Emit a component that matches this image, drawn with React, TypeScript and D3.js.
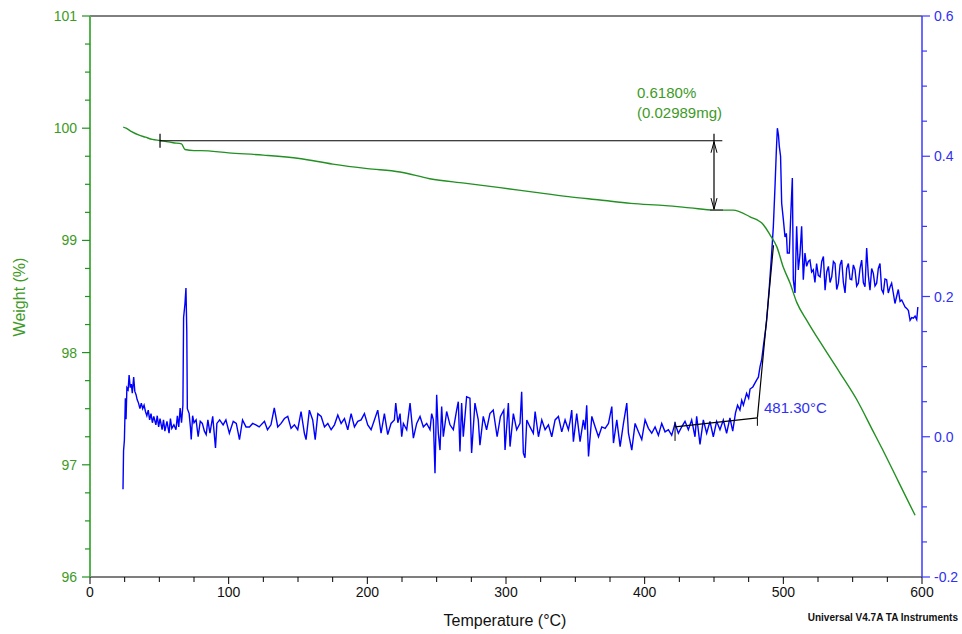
import React from 'react';
import * as d3 from 'd3';

// ---- axis tick values ----
const tempTicks = [0, 100, 200, 300, 400, 500, 600];
const weightTicks = [96, 97, 98, 99, 100, 101];
const derivTicks = [-0.2, 0, 0.2, 0.4, 0.6];
const derivTickLabels = ['-0.2', '0.0', '0.2', '0.4', '0.6'];

// ---- weight (%) curve: temperature, weight ----
const weightTemp = [24, 26, 30, 35, 40, 45, 50.5, 55, 60, 66, 68.5, 75, 80, 100, 125, 151, 175, 200, 223.5, 245, 270, 295.7, 320, 345, 367.8, 390, 415, 432.7, 450, 463.7, 476, 485.6, 490.4, 495.4, 500, 504.8, 509.6, 516.8, 528.8, 540.8, 553, 564.7, 571, 583, 595];
const weightVal = [100.01, 100.0, 99.97, 99.94, 99.92, 99.9, 99.89, 99.88, 99.87, 99.86, 99.81, 99.8, 99.8, 99.78, 99.76, 99.73, 99.68, 99.64, 99.61, 99.55, 99.51, 99.47, 99.43, 99.39, 99.36, 99.33, 99.31, 99.29, 99.27, 99.27, 99.21, 99.14, 99.05, 98.94, 98.76, 98.62, 98.45, 98.29, 98.05, 97.82, 97.58, 97.3, 97.15, 96.85, 96.55];

// ---- derivative weight curve: temperature ----
const derivTemp = [
  23.8, 24.2, 24.8, 25.5, 26.0, 26.6, 27.5, 28.2, 29.0, 29.8, 30.5, 31.5, 32.3, 33.2, 34.0, 35.0, 36.0, 37.0, 38.0, 39.0,
  40.0, 41.0, 42.0, 43.0, 44.0, 45.0, 46.0, 47.5, 48.5, 49.5, 50.5, 52.0, 53.0, 54.0, 55.5, 57.0, 58.0, 59.0, 60.5, 62.0,
  63.0, 64.0, 65.0, 66.0, 67.0, 67.5, 68.5, 69.2, 69.8, 70.2, 71.5, 72.5, 73.0, 74.0, 75.0, 76.5, 78.0, 79.5, 81.0, 82.5,
  83.8, 85.0, 86.5, 88.5, 90.5, 91.5, 93.5, 96.0, 98.0, 100.5, 103.3, 105.5, 107.8, 110.0, 112.5, 115.0, 117.3, 119.6, 122.0, 125.8,
  128.0, 130.5, 132.9, 135.4, 137.8, 140.2, 142.6, 145.0, 147.4, 149.8, 152.2, 154.6, 155.8, 158.2, 160.6, 162.4, 164.3, 166.7, 169.1, 171.5,
  173.9, 176.3, 178.7, 181.1, 183.5, 185.9, 188.3, 190.7, 193.1, 195.5, 197.9, 200.3, 202.7, 205.1, 207.5, 209.9, 212.3, 214.7, 217.1, 219.5,
  220.5, 222.0, 223.6, 224.8, 226.0, 228.4, 230.8, 233.2, 235.6, 238.0, 240.4, 242.8, 245.2, 246.4, 247.6, 248.8, 250.0, 251.2, 252.4, 253.6,
  254.8, 257.2, 259.6, 262.0, 264.4, 265.6, 266.8, 268.0, 269.2, 271.6, 274.0, 275.2, 277.6, 280.0, 281.2, 283.6, 286.0, 288.4, 290.8, 293.6,
  296.0, 298.4, 299.3, 301.7, 302.9, 305.3, 307.7, 310.1, 311.3, 312.5, 313.7, 315.0, 317.3, 319.7, 321.0, 323.4, 325.8, 328.2, 330.6, 333.0,
  335.4, 337.8, 340.2, 342.6, 345.0, 346.2, 347.4, 348.6, 351.0, 353.4, 355.8, 357.0, 358.2, 359.5, 361.9, 364.3, 366.7, 369.1, 371.5, 373.9,
  376.3, 377.5, 379.9, 382.3, 384.7, 387.1, 388.3, 390.7, 393.1, 395.5, 397.9, 400.3, 402.7, 405.1, 407.5, 409.9, 412.3, 414.7, 417.1, 419.5,
  421.9, 424.3, 426.7, 429.1, 431.5, 433.9, 436.3, 437.5, 439.9, 442.3, 444.7, 447.1, 449.5, 451.9, 454.3, 456.7, 459.1, 461.5, 463.5, 465.5,
  467.0, 468.7, 470.0, 471.2, 473.5, 475.0, 476.0, 478.0, 480.8, 482.0, 483.2, 484.4, 485.6, 487.0, 488.0, 489.9, 491.6, 492.8, 494.0, 495.0,
  495.7, 496.5, 497.1, 498.0, 498.8, 500.0, 501.2, 502.2, 502.9, 504.3, 505.5, 506.5, 507.2, 508.4, 509.6, 510.8, 512.0, 513.2, 514.4, 515.6,
  516.8, 518.0, 519.2, 520.4, 521.6, 522.8, 524.0, 525.2, 526.5, 527.7, 528.9, 530.1, 531.3, 532.5, 533.7, 534.9, 536.1, 537.3, 538.5, 539.7,
  540.9, 542.1, 543.3, 544.5, 545.7, 546.9, 548.1, 549.3, 550.5, 551.7, 552.9, 554.1, 555.3, 556.5, 557.7, 558.9, 560.1, 561.3, 562.5, 563.7,
  564.9, 566.1, 567.3, 568.5, 569.7, 570.9, 572.1, 573.3, 574.5, 575.7, 577.0, 578.1, 579.3, 580.5, 581.7, 582.9, 584.2, 585.4, 586.6, 587.8,
  589.0, 590.2, 591.4, 592.6, 593.8, 595.0, 596.2, 597.0
];
// ---- derivative weight curve: values (right axis) ----
const derivVal = [
  -0.075, -0.02, -0.005, 0.055, 0.025, 0.07, 0.067, 0.088, 0.07, 0.075, 0.062, 0.085, 0.065, 0.06, 0.053, 0.048, 0.04, 0.048, 0.04, 0.045,
  0.036, 0.03, 0.038, 0.024, 0.033, 0.02, 0.029, 0.017, 0.03, 0.014, 0.026, 0.01, 0.024, 0.008, 0.022, 0.005, 0.026, 0.012, 0.017, 0.01,
  0.03, 0.014, 0.041, 0.02, 0.045, 0.17, 0.19, 0.212, 0.15, 0.04, 0.033, 0.012, -0.004, 0.03, 0.02, 0.024, 0.0, 0.022, 0.019, 0.008,
  0.003, 0.024, 0.005, 0.029, -0.016, 0.019, 0.024, 0.017, 0.024, 0.005, 0.022, 0.019, -0.004, 0.024, 0.014, 0.014, 0.019, 0.017, 0.014, 0.022,
  0.01, 0.017, 0.041, 0.014, 0.019, 0.026, 0.029, 0.012, 0.017, 0.01, 0.036, 0.005, -0.004, 0.038, 0.024, -0.004, 0.033, 0.029, 0.014, 0.019,
  0.01, 0.017, 0.031, 0.019, 0.026, 0.01, 0.033, 0.014, 0.022, 0.024, 0.033, 0.017, 0.01, 0.024, 0.038, 0.005, 0.033, 0.003, 0.019, 0.024,
  0.048, 0.02, 0.033, 0.0, 0.019, 0.01, 0.048, -0.002, 0.019, 0.029, 0.014, 0.019, 0.01, 0.033, 0.024, -0.052, 0.06, 0.005, -0.019, 0.043,
  0.0, 0.036, 0.017, 0.01, 0.038, 0.05, -0.021, 0.048, 0.0, 0.057, 0.055, -0.023, 0.048, 0.024, -0.012, 0.029, 0.01, 0.033, 0.038, 0.0,
  0.029, 0.038, -0.019, 0.048, -0.014, 0.033, 0.01, 0.019, 0.064, -0.023, -0.03, 0.024, 0.014, 0.005, 0.036, 0.0, 0.024, 0.01, 0.017, 0.0,
  0.024, 0.029, 0.007, 0.024, 0.01, 0.022, 0.038, -0.007, 0.033, -0.007, 0.024, 0.01, 0.045, -0.028, 0.029, 0.014, 0.0, 0.014, 0.012, 0.019,
  0.043, -0.009, 0.024, -0.014, 0.019, 0.048, 0.005, -0.019, 0.019, 0.007, -0.004, 0.024, 0.012, 0.005, 0.014, 0.002, 0.019, 0.007, 0.01, 0.002,
  0.019, 0.005, 0.014, 0.022, 0.01, 0.024, 0.0, 0.029, -0.011, 0.024, 0.005, 0.022, 0.0, 0.022, 0.01, 0.024, 0.005, 0.027, 0.008, 0.034,
  0.045, 0.038, 0.052, 0.045, 0.062, 0.055, 0.068, 0.071, 0.081, 0.085, 0.1, 0.11, 0.129, 0.15, 0.166, 0.214, 0.262, 0.3, 0.357, 0.41,
  0.44, 0.43, 0.414, 0.4, 0.333, 0.31, 0.285, 0.29, 0.262, 0.262, 0.323, 0.369, 0.224, 0.205, 0.3, 0.238, 0.26, 0.3, 0.224, 0.262,
  0.243, 0.25, 0.252, 0.235, 0.238, 0.22, 0.247, 0.23, 0.228, 0.25, 0.257, 0.209, 0.235, 0.243, 0.22, 0.228, 0.25, 0.247, 0.21, 0.219,
  0.245, 0.252, 0.22, 0.205, 0.24, 0.247, 0.225, 0.224, 0.245, 0.238, 0.215, 0.219, 0.24, 0.252, 0.22, 0.214, 0.269, 0.23, 0.209, 0.24,
  0.233, 0.215, 0.219, 0.24, 0.247, 0.21, 0.205, 0.225, 0.224, 0.205, 0.214, 0.219, 0.205, 0.19, 0.2, 0.21, 0.193, 0.195, 0.19, 0.185,
  0.183, 0.18, 0.166, 0.17, 0.169, 0.172, 0.167, 0.185
];

// ---- annotations ----
const stepTemps = [50.5, 450, 456]; // start tick, arrow position, line end
const stepWeights = [99.888, 99.27]; // upper level, lower level
const stepLabels = ['0.6180%', '(0.02989mg)'];
const onsetBaseline = [[421.9, 0.014], [481.3, 0.027]];
const onsetTangent = [[481.3, 0.027], [492.9, 0.273]];
const onsetLabel = '481.30°C';
const footer = 'Universal V4.7A TA Instruments';

const W = 962, H = 634;
const left = 90, right = 922, top = 16, bottom = 577;
const FONT = '"Liberation Sans", Arial, sans-serif';
const GREEN_TXT = '#3d9a26';
const GREEN_AX = '#55b34e';
const GREEN_LINE = '#229022';
const BLUE = '#0000ff';
const BLUE_TXT = '#2f2ff5';

export default function App() {
  const x = d3.scaleLinear().domain([0, 600]).range([left, right]);
  const yW = d3.scaleLinear().domain([96, 101]).range([bottom, top]);
  const yD = d3.scaleLinear().domain([-0.2, 0.6]).range([bottom, top]);

  const wLine = d3.line<number>().x((_, i) => x(weightTemp[i])).y((d) => yW(d)).curve(d3.curveMonotoneX);
  const dLine = d3.line<number>().x((_, i) => x(derivTemp[i])).y((d) => yD(d));
  const seg = d3.line<number[]>().x((d) => x(d[0])).y((d) => yD(d[1]));

  const minorW = d3.range(96, 101.001, 0.25);
  const minorD = d3.range(-0.2, 0.6001, 0.05);
  const minorT = d3.range(0, 600.1, 25);

  const ax = x(stepTemps[1]);
  const yUp = yW(stepWeights[0]);
  const yLo = yW(stepWeights[1]);

  return (
    <svg width={W} height={H} style={{ position: 'absolute', left: 0, top: 0, background: '#fff' }} fontFamily={FONT}>
      <rect x={0} y={0} width={W} height={H} fill="#fff" />
      {/* top frame */}
      <line x1={left} x2={right} y1={top} y2={top} stroke="#000" strokeWidth={1} />
      {/* x axis */}
      <line x1={left} x2={right} y1={bottom} y2={bottom} stroke="#000" strokeWidth={1.2} />
      {minorT.map((t) => (
        <line key={'mt' + t} x1={x(t)} x2={x(t)} y1={bottom} y2={bottom + (t % 100 === 0 ? 7 : 5)} stroke="#000" strokeWidth={1} />
      ))}
      {tempTicks.map((t) => (
        <text key={'tt' + t} x={x(t)} y={bottom + 20} fontSize={14} textAnchor="middle" fill="#111">{t}</text>
      ))}
      {/* left axis */}
      <line x1={left} x2={left} y1={top} y2={bottom} stroke={GREEN_AX} strokeWidth={2} />
      {minorW.map((v) => (
        <line key={'mw' + v} x1={left - (Math.abs(v - Math.round(v)) < 1e-6 ? 8 : 5)} x2={left} y1={yW(v)} y2={yW(v)} stroke={GREEN_LINE} strokeWidth={1.2} />
      ))}
      {weightTicks.map((v) => (
        <text key={'wt' + v} x={left - 13} y={yW(v) + 5} fontSize={14} textAnchor="end" fill={GREEN_TXT}>{v}</text>
      ))}
      {/* right axis */}
      <line x1={right} x2={right} y1={top} y2={bottom} stroke="#3a3aff" strokeWidth={1.5} />
      {minorD.map((v, i) => (
        <line key={'md' + i} x1={right} x2={right + (i % 4 === 0 ? 8 : 5)} y1={yD(v)} y2={yD(v)} stroke="#3a3aff" strokeWidth={1.2} />
      ))}
      {derivTicks.map((v, i) => (
        <text key={'dt' + i} x={right + 12} y={yD(v) + 5} fontSize={14} fill={BLUE_TXT}>{derivTickLabels[i]}</text>
      ))}
      {/* axis titles */}
      <text x={505} y={626} fontSize={16} textAnchor="middle" fill="#111">Temperature (°C)</text>
      <text transform={`translate(25,297) rotate(-90)`} fontSize={16} textAnchor="middle" fill={GREEN_TXT}>Weight (%)</text>
      <text x={958} y={621} fontSize={10} fontWeight="bold" textAnchor="end" fill="#111">{footer}</text>

      {/* derivative curve */}
      <path d={dLine(derivVal) || ''} fill="none" stroke={BLUE} strokeWidth={1.4} strokeLinejoin="miter" />
      {/* weight curve */}
      <path d={wLine(weightVal) || ''} fill="none" stroke={GREEN_LINE} strokeWidth={1.4} />

      {/* step annotation */}
      <line x1={x(stepTemps[0])} x2={x(stepTemps[2])} y1={yUp} y2={yUp} stroke="#000" strokeWidth={1.2} />
      <line x1={x(stepTemps[0])} x2={x(stepTemps[0])} y1={yUp - 7} y2={yUp + 7} stroke="#000" strokeWidth={1.2} />
      <line x1={ax} x2={ax} y1={yUp - 7} y2={yLo} stroke="#000" strokeWidth={1.2} />
      <path d={`M${ax - 3},${yUp + 12}L${ax},${yUp + 1}L${ax + 3},${yUp + 12}`} fill="none" stroke="#000" strokeWidth={1} />
      <path d={`M${ax - 3},${yLo - 12}L${ax},${yLo - 1}L${ax + 3},${yLo - 12}`} fill="none" stroke="#000" strokeWidth={1} />
      <line x1={ax - 4} x2={ax + 9} y1={yLo} y2={yLo} stroke="#555" strokeWidth={1.5} />
      <text x={637} y={98} fontSize={15} fill={GREEN_TXT}>{stepLabels[0]}</text>
      <text x={637} y={118} fontSize={15} fill={GREEN_TXT}>{stepLabels[1]}</text>

      {/* onset annotation */}
      <path d={seg(onsetBaseline) || ''} fill="none" stroke="#000" strokeWidth={1.2} />
      <path d={seg(onsetTangent) || ''} fill="none" stroke="#000" strokeWidth={1.2} />
      <line x1={x(onsetBaseline[0][0])} x2={x(onsetBaseline[0][0])} y1={yD(onsetBaseline[0][1]) - 5} y2={yD(onsetBaseline[0][1]) + 14} stroke="#000" strokeWidth={1} />
      <line x1={x(onsetTangent[0][0])} x2={x(onsetTangent[0][0])} y1={yD(onsetTangent[0][1])} y2={yD(onsetTangent[0][1]) + 8} stroke="#000" strokeWidth={1} />
      <text x={764} y={413} fontSize={15} fill={BLUE_TXT}>{onsetLabel}</text>
    </svg>
  );
}
